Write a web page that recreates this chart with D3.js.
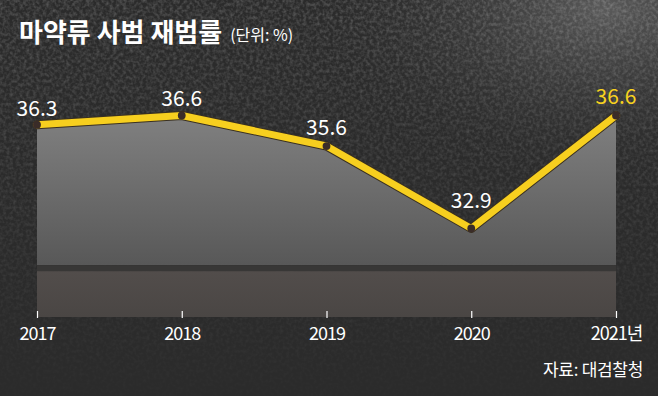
<!DOCTYPE html>
<html>
<head>
<meta charset="utf-8">
<script src="https://cdn.jsdelivr.net/npm/d3@7"></script>
<style>
  html, body { margin: 0; padding: 0; background: #2c2c2c; }
  svg { display: block; }
  text { font-family: "Noto Sans CJK KR", "Noto Sans", sans-serif; }
</style>
</head>
<body>
<svg id="chart" width="658" height="396"></svg>
<script>
// data
var years = [2017, 2018, 2019, 2020, 2021];
var rates = [36.3, 36.6, 35.6, 32.9, 36.6];
var yearLabels = ["2017", "2018", "2019", "2020", "2021년"];
var yDomain = [30, 36.6];
var axisBreak = [31.5, 31.7];   // the dark band across the area (truncated axis)
var title = "마약류 사범 재범률";
var unit = "(단위: %)";
var source = "자료: 대검찰청";

var svg = d3.select("#chart"),
    width = +svg.attr("width"),
    height = +svg.attr("height");

var x = d3.scaleLinear().domain([years[0], years[years.length - 1]]).range([37, 616]);
var y = d3.scaleLinear().domain(yDomain).range([317, 115.5]);

var data = years.map(function(d, i) { return {year: d, value: rates[i], label: yearLabels[i]}; });

var defs = svg.append("defs");

// background texture
var bg = defs.append("radialGradient").attr("id", "bgGlow")
    .attr("cx", "0.92").attr("cy", "0.02").attr("r", "0.45");
bg.append("stop").attr("offset", "0%").attr("stop-color", "#5a5a5a");
bg.append("stop").attr("offset", "100%").attr("stop-color", "#2c2c2c").attr("stop-opacity", 0);

var noise = defs.append("filter").attr("id", "grain")
    .attr("x", 0).attr("y", 0).attr("width", "100%").attr("height", "100%");
noise.append("feTurbulence").attr("type", "fractalNoise")
    .attr("baseFrequency", "0.3").attr("numOctaves", 2).attr("seed", 3);
noise.append("feColorMatrix").attr("type", "matrix")
    .attr("values", "0 0 0 0 1  0 0 0 0 1  0 0 0 0 1  0 0 0 1.1 -0.4");

var fadeMask = defs.append("linearGradient").attr("id", "fade")
    .attr("x1", 0).attr("y1", 0).attr("x2", 0).attr("y2", 1);
fadeMask.append("stop").attr("offset", "0%").attr("stop-color", "#fff").attr("stop-opacity", 0.8);
fadeMask.append("stop").attr("offset", "65%").attr("stop-color", "#fff").attr("stop-opacity", 0.3);
fadeMask.append("stop").attr("offset", "100%").attr("stop-color", "#fff").attr("stop-opacity", 0.05);
defs.append("mask").attr("id", "grainMask")
  .append("rect").attr("width", width).attr("height", height).attr("fill", "url(#fade)");

svg.append("rect").attr("width", width).attr("height", height).attr("fill", "#2b2b2b");
svg.append("rect").attr("width", width).attr("height", height).attr("fill", "url(#bgGlow)");
svg.append("rect").attr("width", width).attr("height", height)
    .attr("filter", "url(#grain)").attr("mask", "url(#grainMask)").attr("opacity", 0.45);

// area fills
var upperGrad = defs.append("linearGradient").attr("id", "upperGrad")
    .attr("gradientUnits", "userSpaceOnUse")
    .attr("x1", 0).attr("y1", y(yDomain[1])).attr("x2", 0).attr("y2", y(axisBreak[1]));
upperGrad.append("stop").attr("offset", "0%").attr("stop-color", "#808080");
upperGrad.append("stop").attr("offset", "100%").attr("stop-color", "#585858");

var lowerGrad = defs.append("linearGradient").attr("id", "lowerGrad")
    .attr("gradientUnits", "userSpaceOnUse")
    .attr("x1", 0).attr("y1", y(axisBreak[0])).attr("x2", 0).attr("y2", y(yDomain[0]));
lowerGrad.append("stop").attr("offset", "0%").attr("stop-color", "#524d4b");
lowerGrad.append("stop").attr("offset", "100%").attr("stop-color", "#4a4644");

var upperArea = d3.area()
    .x(function(d) { return x(d.year); })
    .y0(y(axisBreak[1]))
    .y1(function(d) { return y(d.value); });

svg.append("path").datum(data).attr("d", upperArea).attr("fill", "url(#upperGrad)");

svg.append("rect")
    .attr("x", x(years[0])).attr("width", x(years[years.length - 1]) - x(years[0]))
    .attr("y", y(axisBreak[1])).attr("height", y(axisBreak[0]) - y(axisBreak[1]))
    .attr("fill", "#383736");

svg.append("rect")
    .attr("x", x(years[0])).attr("width", x(years[years.length - 1]) - x(years[0]))
    .attr("y", y(axisBreak[0])).attr("height", y(yDomain[0]) - y(axisBreak[0]))
    .attr("fill", "url(#lowerGrad)");

// line
var line = d3.line()
    .x(function(d) { return x(d.year); })
    .y(function(d) { return y(d.value); });

svg.append("path").datum(data).attr("d", line)
    .attr("fill", "none").attr("stroke", "#3a3020").attr("stroke-width", 9)
    .attr("stroke-linejoin", "round").attr("stroke-linecap", "round");
svg.append("path").datum(data).attr("d", line)
    .attr("fill", "none").attr("stroke", "#f7cf1f").attr("stroke-width", 7)
    .attr("stroke-linejoin", "round").attr("stroke-linecap", "round");

svg.selectAll(".dot").data(data).enter()
  .append("circle").attr("class", "dot")
    .attr("cx", function(d) { return x(d.year); })
    .attr("cy", function(d) { return y(d.value); })
    .attr("r", 3.9)
    .attr("fill", "#3a2c28");

// value labels
var labelGap = [9, 10, 11.5, 20, 11.5];
svg.selectAll(".val").data(data).enter()
  .append("text").attr("class", "val")
    .attr("x", function(d) { return x(d.year); })
    .attr("y", function(d, i) { return y(d.value) - labelGap[i]; })
    .attr("text-anchor", "middle")
    .attr("font-size", 21)
    .attr("fill", function(d, i) { return i === data.length - 1 ? "#f7d21f" : "#ffffff"; })
    .text(function(d) { return d.value.toFixed(1); });

// x axis
var xAxis = svg.append("g")
    .attr("transform", "translate(0," + y(yDomain[0]) + ")")
    .call(d3.axisBottom(x)
        .tickValues(years)
        .tickSize(-7)
        .tickPadding(10)
        .tickFormat(function(d, i) { return yearLabels[i]; }));
xAxis.select(".domain").remove();
xAxis.selectAll(".tick line").attr("stroke", "#ffffff").attr("stroke-width", 1.2)
    .attr("y1", 1).attr("y2", -6);
xAxis.selectAll(".tick text")
    .attr("fill", "#ffffff")
    .attr("font-size", 18)
    .attr("font-family", "\"Noto Sans CJK KR\", sans-serif")
    .attr("letter-spacing", -1);

// title
var t = svg.append("text").attr("x", 19).attr("y", 42);
t.append("tspan").attr("font-size", 26).attr("font-weight", "bold").attr("fill", "#ffffff")
    .text(title);
t.append("tspan").attr("dx", 8).attr("font-size", 16).attr("fill", "#ffffff")
    .attr("dy", -1).text(unit);

// source
svg.append("text").attr("x", 643).attr("y", 376)
    .attr("text-anchor", "end").attr("font-size", 17).attr("fill", "#ffffff")
    .attr("letter-spacing", -0.3)
    .text(source);
</script>
</body>
</html>
